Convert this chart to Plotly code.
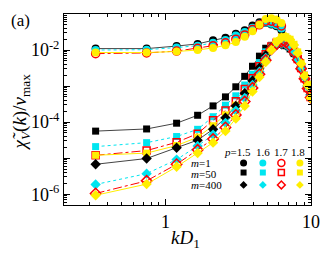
import plotly.graph_objects as go

# wavenumbers kD1
k_all = [0.33, 0.74, 1.19, 1.66, 2.12, 2.58, 3.04, 3.5, 3.96, 4.42, 4.88,
         5.34, 5.8, 6.26, 6.72, 7.18, 7.64, 8.1, 8.56, 9.02, 9.48, 9.94]
n_m1 = 14  # m=1 curves stop earlier

p_labels = ["1.5", "1.6", "1.7", "1.8"]
m_labels = ["1", "50", "400"]

# log10 of chi_V(k)/v_max
log_m1 = {
    "1.5": [-1.96, -1.96, -1.89, -1.83, -1.73, -1.66, -1.55, -1.45, -1.32, -1.23, -1.25, -1.29, -1.34, -1.45],
    "1.6": [-2.00, -1.99, -1.93, -1.88, -1.80, -1.72, -1.60, -1.50, -1.38, -1.27, -1.24, -1.27, -1.31, -1.40],
    "1.7": [-2.10, -2.08, -2.03, -1.95, -1.88, -1.80, -1.70, -1.58, -1.43, -1.30, -1.20, -1.20, -1.25, -1.33],
    "1.8": [-2.07, -2.07, -2.04, -2.00, -1.94, -1.87, -1.78, -1.63, -1.48, -1.30, -1.14, -1.12, -1.15, -1.25],
}
log_m50 = {
    "1.5": [-4.25, -4.19, -4.03, -3.81, -3.55, -3.30, -3.02, -2.73, -2.45, -2.17, -1.95, -1.87, -1.84, -1.84, -1.88, -1.97, -2.10, -2.25, -2.45, -2.70, -2.95, -3.20],
    "1.6": [-4.68, -4.57, -4.40, -4.20, -3.85, -3.53, -3.27, -2.97, -2.67, -2.35, -2.05, -1.88, -1.82, -1.80, -1.84, -1.93, -2.07, -2.25, -2.47, -2.72, -2.98, -3.25],
    "1.7": [-4.92, -4.79, -4.56, -4.32, -3.95, -3.68, -3.42, -3.08, -2.78, -2.45, -2.12, -1.90, -1.80, -1.76, -1.78, -1.88, -2.05, -2.25, -2.50, -2.78, -3.05, -3.30],
    "1.8": [-4.92, -4.86, -4.65, -4.42, -4.10, -3.80, -3.53, -3.22, -2.93, -2.60, -2.25, -1.95, -1.75, -1.64, -1.63, -1.70, -1.84, -2.05, -2.35, -2.70, -2.95, -3.30],
}
log_m400 = {
    "1.5": [-5.17, -5.01, -4.71, -4.50, -4.20, -3.88, -3.55, -3.20, -2.85, -2.50, -2.15, -1.93, -1.86, -1.84, -1.87, -1.96, -2.10, -2.28, -2.48, -2.74, -3.00, -3.24],
    "1.6": [-5.73, -5.43, -5.04, -4.66, -4.35, -4.02, -3.68, -3.33, -2.97, -2.60, -2.22, -1.95, -1.85, -1.82, -1.85, -1.94, -2.08, -2.26, -2.48, -2.74, -3.00, -3.26],
    "1.7": [-5.98, -5.63, -5.17, -4.77, -4.47, -4.15, -3.80, -3.43, -3.05, -2.67, -2.28, -1.98, -1.83, -1.77, -1.79, -1.88, -2.05, -2.27, -2.52, -2.80, -3.07, -3.32],
    "1.8": [-6.03, -5.72, -5.24, -4.86, -4.57, -4.25, -3.90, -3.55, -3.15, -2.75, -2.33, -2.00, -1.78, -1.66, -1.64, -1.71, -1.86, -2.08, -2.38, -2.72, -2.98, -3.33],
}

colors = {"1.5": "#000000", "1.6": "#00e5f0", "1.7": "#ff0000", "1.8": "#ffee00"}
line_colors = {"1.5": "#444444", "1.6": "#00e5f0", "1.7": "#ff0000", "1.8": "#ffee00"}
dashes = {"1.5": "solid", "1.6": "dot", "1.7": "dashdot", "1.8": "solid"}
open_p = {"1.7"}
symbols = {"1": "circle", "50": "square", "400": "diamond"}
sizes = {"1": 8, "50": 7, "400": 8}

FONT = "Liberation Serif"
fig = go.Figure()

groups = [("1", log_m1, k_all[:n_m1]), ("50", log_m50, k_all), ("400", log_m400, k_all)]
for m, data, ks in groups:
    for p in p_labels:
        ys = [10 ** v for v in data[p]]
        sym = symbols[m] + ("-open" if p in open_p else "")
        fig.add_trace(go.Scatter(
            x=ks, y=ys, mode="lines+markers",
            line=dict(color=line_colors[p], width=1, dash=dashes[p]),
            marker=dict(symbol=sym, size=sizes[m], color=colors[p],
                        line=dict(color=colors[p], width=1.5 if p in open_p else 0)),
            showlegend=False, hoverinfo="skip"))

# legend table (on an overlay 0..1 axis)
leg_x = [0.727, 0.805, 0.880, 0.955]
leg_y = [0.22, 0.17, 0.105]
for i, p in enumerate(p_labels):
    for j, m in enumerate(m_labels):
        sym = symbols[m] + ("-open" if p in open_p else "")
        fig.add_trace(go.Scatter(
            x=[leg_x[i]], y=[leg_y[j]], xaxis="x2", yaxis="y2", mode="markers",
            marker=dict(symbol=sym, size=7 if m == "1" else 6, color=colors[p],
                        line=dict(color=colors[p], width=1.5 if p in open_p else 0)),
            showlegend=False, hoverinfo="skip"))

y_major = [-1, -2, -3, -4, -5, -6]
y_text = {-2: "10<sup>-2</sup>", -4: "10<sup>-4</sup>", -6: "10<sup>-6</sup>"}
y_minor = []
for e in range(-7, 0):
    for d in range(2, 10):
        y_minor.append(d * 10 ** e)
x_minor = [d * 0.1 for d in range(2, 10)] + [float(d) for d in range(2, 10)]

fig.update_layout(
    width=332, height=257,
    margin=dict(l=64, r=13, t=14, b=52),
    paper_bgcolor="white", plot_bgcolor="white",
    font=dict(family=FONT, color="black", size=17),
    xaxis=dict(type="log", range=[-0.699, 1.0], showgrid=False, zeroline=False,
               showline=True, linecolor="black", linewidth=1, mirror="ticks",
               ticks="inside", ticklen=6, tickcolor="black",
               tickvals=[1, 10], ticktext=["1", "10"], tickfont=dict(size=18),
               minor=dict(tickvals=x_minor, ticks="inside", ticklen=3, tickcolor="black")),
    yaxis=dict(type="log", range=[-6.3, -1.0], showgrid=False, zeroline=False,
               showline=True, linecolor="black", linewidth=1, mirror="ticks",
               ticks="inside", ticklen=6, tickcolor="black",
               tickvals=[10 ** e for e in y_major],
               ticktext=[y_text.get(e, "") for e in y_major], tickfont=dict(size=18),
               minor=dict(tickvals=y_minor, ticks="inside", ticklen=3, tickcolor="black")),
    xaxis2=dict(overlaying="x", range=[0, 1], visible=False),
    yaxis2=dict(overlaying="y", range=[0, 1], visible=False),
)

def px(xp):
    return (xp - 64) / (332 - 64 - 13)
def py(yp):
    return (257 - 52 - yp) / (257 - 52 - 14)

def note(text, x, y, size, xanchor="center", angle=0):
    return dict(text=text, x=px(x), y=py(y), xref="paper", yref="paper",
                showarrow=False, xanchor=xanchor, yanchor="middle",
                textangle=angle, font=dict(size=size))

annotations = [
    note("(a)", 19, 20, 17),
    note("<i>kD</i><sub>1</sub>", 189, 239, 19),
    note("<i>χ\u0303</i><sub><i>V</i></sub>(<i>k</i>)/<i>v</i><sub>max</sub>", 20, 112, 19, angle=-90),
    note("<i>p</i>=1.5", 243, 152, 11),
    note("1.6", 269, 152, 11),
    note("1.7", 288, 152, 11),
    note("1.8", 306, 152, 11),
    note("<i>m</i>=1", 193, 163, 11, xanchor="left"),
    note("<i>m</i>=50", 193, 173.5, 11, xanchor="left"),
    note("<i>m</i>=400", 193, 185, 11, xanchor="left"),
]
fig.update_layout(annotations=annotations)

fig.write_html("out.html", config={"displayModeBar": False},
               post_script="document.body.style.margin='0px';")
